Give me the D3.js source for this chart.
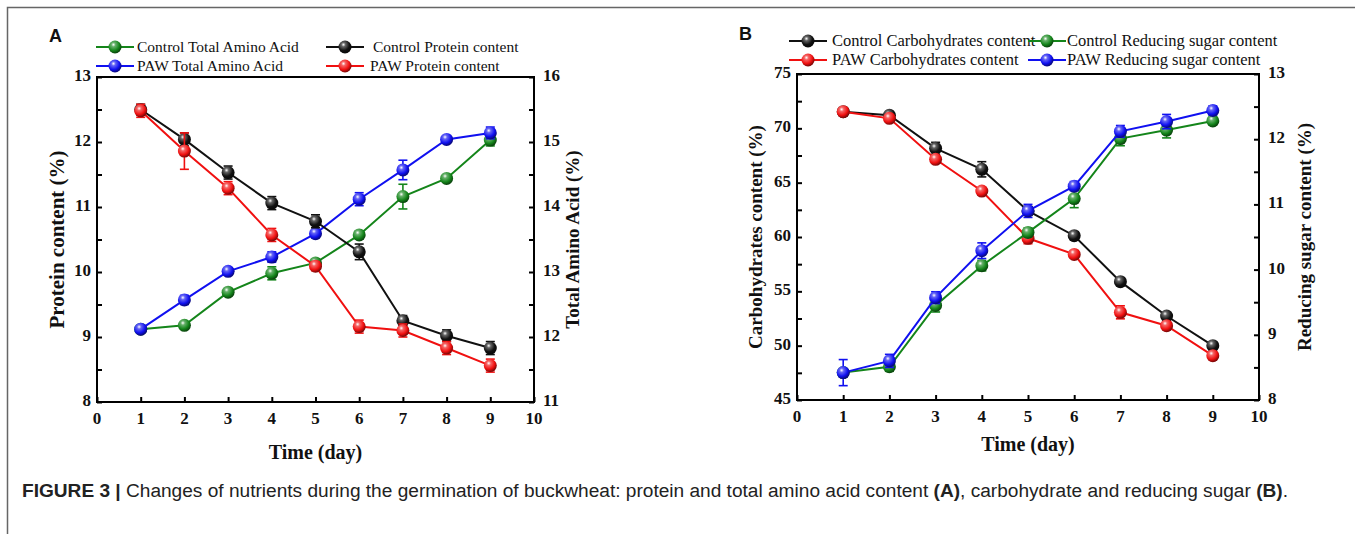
<!DOCTYPE html>
<html>
<head>
<meta charset="utf-8">
<script src="https://cdn.jsdelivr.net/npm/d3@7"></script>
<style>
  body { margin: 0; background: #fff; }
  svg { display: block; }
  .tick-label { font-family: "Liberation Serif", "Times New Roman", serif; font-weight: bold; font-size: 17px; fill: #111; }
  .axis-title { font-family: "Liberation Serif", "Times New Roman", serif; font-weight: bold; fill: #111; }
  .legend-text { font-family: "Liberation Serif", "Times New Roman", serif; fill: #111; }
  .panel-tag { font-family: "Liberation Sans", Arial, sans-serif; font-weight: bold; font-size: 18px; fill: #111; }
  .caption { font-family: "Liberation Sans", Arial, sans-serif; font-size: 18px; fill: #222; }
</style>
</head>
<body>
<svg id="fig" width="1355" height="534"></svg>
<script>
// ---- data ----
const days = [1, 2, 3, 4, 5, 6, 7, 8, 9];
const xTicks = [0, 1, 2, 3, 4, 5, 6, 7, 8, 9, 10];

// panel A
const proteinControl    = [12.50, 12.04, 11.53, 11.06, 10.78, 10.31, 9.25, 9.02, 8.83];
const proteinControlErr = [0.08, 0.10, 0.10, 0.10, 0.10, 0.12, 0.08, 0.09, 0.10];
const proteinPAW        = [12.48, 11.86, 11.29, 10.57, 10.09, 9.16, 9.10, 8.83, 8.56];
const proteinPAWErr     = [0.10, 0.28, 0.10, 0.10, 0.07, 0.10, 0.10, 0.10, 0.10];
const aminoControl      = [12.12, 12.18, 12.69, 12.98, 13.14, 13.57, 14.16, 14.44, 15.03];
const aminoControlErr   = [0.04, 0.05, 0.05, 0.10, 0.06, 0.06, 0.19, 0.05, 0.09];
const aminoPAW          = [12.12, 12.57, 13.01, 13.23, 13.59, 14.12, 14.57, 15.04, 15.14];
const aminoPAWErr       = [0.05, 0.07, 0.05, 0.08, 0.05, 0.10, 0.15, 0.04, 0.09];
const proteinTicks = [8, 9, 10, 11, 12, 13];
const aminoTicks   = [11, 12, 13, 14, 15, 16];

// panel B
const carbControl    = [71.53, 71.20, 68.16, 66.23, 62.40, 60.12, 55.89, 52.73, 50.00];
const carbControlErr = [0.30, 0.35, 0.55, 0.70, 0.40, 0.35, 0.30, 0.30, 0.30];
const carbPAW        = [71.53, 70.92, 67.15, 64.23, 59.88, 58.40, 53.07, 51.84, 49.08];
const carbPAWErr     = [0.30, 0.30, 0.30, 0.30, 0.50, 0.30, 0.60, 0.30, 0.30];
const sugarControl    = [8.42, 8.51, 9.45, 10.06, 10.57, 11.09, 12.01, 12.14, 12.28];
const sugarControlErr = [0.05, 0.07, 0.10, 0.08, 0.07, 0.14, 0.11, 0.12, 0.05];
const sugarPAW        = [8.42, 8.60, 9.57, 10.29, 10.90, 11.28, 12.12, 12.27, 12.44];
const sugarPAWErr     = [0.20, 0.10, 0.09, 0.12, 0.10, 0.07, 0.09, 0.11, 0.07];
const carbTicks  = [45, 50, 55, 60, 65, 70, 75];
const sugarTicks = [8, 9, 10, 11, 12, 13];

const colors = { green: "#14851a", blue: "#1010f0", black: "#111111", red: "#f01010" };

const svg = d3.select("#fig");
const defs = svg.append("defs");

// shaded ball markers
Object.entries(colors).forEach(([k, c]) => {
  const grad = defs.append("radialGradient").attr("id", "ball-" + k)
    .attr("cx", "38%").attr("cy", "32%").attr("r", "65%");
  grad.append("stop").attr("offset", "0%").attr("stop-color", "#ffffff");
  grad.append("stop").attr("offset", "25%").attr("stop-color", d3.interpolateRgb(c, "#fff")(0.35));
  grad.append("stop").attr("offset", "70%").attr("stop-color", c);
  grad.append("stop").attr("offset", "100%").attr("stop-color", d3.interpolateRgb(c, "#000")(0.45));
});

// figure frame
svg.append("path").attr("d", "M7.5,534 V7.5 H1355")
  .attr("fill", "none").attr("stroke", "#666").attr("stroke-width", 1.5);

function drawPanel(p) {
  const g = svg.append("g");
  const x = d3.scaleLinear().domain([0, 10]).range([p.left, p.right]);
  const yL = d3.scaleLinear().domain(p.leftDomain).range([p.bottom, p.top]);
  const yR = d3.scaleLinear().domain(p.rightDomain).range([p.bottom, p.top]);

  // frame
  g.append("rect").attr("x", p.left).attr("y", p.top)
    .attr("width", p.right - p.left).attr("height", p.bottom - p.top)
    .attr("fill", "none").attr("stroke", "#000").attr("stroke-width", 2);

  // inward ticks
  const xAx = d3.axisBottom(x).tickValues(xTicks).tickSize(-5).tickFormat("");
  g.append("g").attr("transform", `translate(0,${p.bottom})`).call(xAx);
  const lTicks = d3.range(p.leftDomain[0], p.leftDomain[1] + 1e-9, p.leftMinor);
  const rTicks = d3.range(p.rightDomain[0], p.rightDomain[1] + 1e-9, p.rightMinor);
  g.append("g").attr("transform", `translate(${p.left},0)`)
    .call(d3.axisLeft(yL).tickValues(lTicks).tickSize(-5).tickFormat(""));
  g.append("g").attr("transform", `translate(${p.right},0)`)
    .call(d3.axisRight(yR).tickValues(rTicks).tickSize(-5).tickFormat(""));
  g.selectAll(".domain").remove();
  g.selectAll(".tick line").attr("stroke", "#000").attr("stroke-width", 2);

  // tick labels
  g.selectAll(".xl").data(xTicks).join("text").attr("class", "tick-label")
    .attr("x", d => x(d)).attr("y", p.bottom + 22).attr("text-anchor", "middle").text(d => d);
  g.selectAll(".ll").data(p.leftTicks).join("text").attr("class", "tick-label")
    .attr("x", p.left - 6).attr("y", d => yL(d) + 4).attr("text-anchor", "end").text(d => d);
  g.selectAll(".rl").data(p.rightTicks).join("text").attr("class", "tick-label")
    .attr("x", p.right + 9).attr("y", d => yR(d) + 4).attr("text-anchor", "start").text(d => d);

  // titles
  const midY = (p.top + p.bottom) / 2;
  g.append("text").attr("class", "axis-title").attr("text-anchor", "middle")
    .style("font-size", p.leftTitleSize + "px")
    .attr("transform", `translate(${p.leftTitleX},${midY}) rotate(-90)`).text(p.leftTitle);
  g.append("text").attr("class", "axis-title").attr("text-anchor", "middle")
    .style("font-size", "19px")
    .attr("transform", `translate(${p.rightTitleX},${midY}) rotate(-90)`).text(p.rightTitle);
  g.append("text").attr("class", "axis-title").attr("text-anchor", "middle")
    .style("font-size", "20px")
    .attr("x", (p.left + p.right) / 2).attr("y", p.xTitleY).text("Time (day)");
  g.append("text").attr("class", "panel-tag").attr("x", p.tagX).attr("y", p.tagY).text(p.tag);

  // series
  p.series.forEach(s => {
    const y = s.axis === "left" ? yL : yR;
    const c = colors[s.color];
    const pts = days.map((d, i) => ({ d, v: s.values[i], e: s.err[i] }));
    const sg = g.append("g");
    sg.append("path").datum(pts)
      .attr("d", d3.line().x(q => x(q.d)).y(q => y(q.v)))
      .attr("fill", "none").attr("stroke", c).attr("stroke-width", 2);
    const eb = sg.selectAll(".eb").data(pts).join("g");
    eb.append("line").attr("x1", q => x(q.d)).attr("x2", q => x(q.d))
      .attr("y1", q => y(q.v - q.e)).attr("y2", q => y(q.v + q.e))
      .attr("stroke", c).attr("stroke-width", 1.6);
    [1, -1].forEach(sgn => {
      eb.append("line").attr("x1", q => x(q.d) - 4.5).attr("x2", q => x(q.d) + 4.5)
        .attr("y1", q => y(q.v + sgn * q.e)).attr("y2", q => y(q.v + sgn * q.e))
        .attr("stroke", c).attr("stroke-width", 1.6);
    });
    sg.selectAll(".pt").data(pts).join("circle")
      .attr("cx", q => x(q.d)).attr("cy", q => y(q.v)).attr("r", 6.5)
      .attr("fill", `url(#ball-${s.color})`);
  });

  // legend
  p.legend.forEach(l => {
    const c = colors[l.color];
    const lg = g.append("g");
    lg.append("line").attr("x1", l.mx - 19).attr("x2", l.mx + 19)
      .attr("y1", l.y).attr("y2", l.y).attr("stroke", c).attr("stroke-width", 2);
    lg.append("circle").attr("cx", l.mx).attr("cy", l.y).attr("r", 6.5)
      .attr("fill", `url(#ball-${l.color})`);
    lg.append("text").attr("class", "legend-text").style("font-size", p.legendSize + "px")
      .attr("x", l.tx).attr("y", l.y + 5).text(l.label);
  });
}

drawPanel({
  left: 97, right: 534, top: 77, bottom: 402,
  leftDomain: [8, 13], rightDomain: [11, 16], leftMinor: 0.5, rightMinor: 0.5,
  leftTicks: proteinTicks, rightTicks: aminoTicks,
  leftTitle: "Protein content (%)", rightTitle: "Total Amino Acid (%)",
  leftTitleX: 64, rightTitleX: 579, xTitleY: 459, leftTitleSize: 21, legendSize: 15.5,
  tag: "A", tagX: 49, tagY: 42,
  series: [
    { values: aminoControl, err: aminoControlErr, axis: "right", color: "green" },
    { values: aminoPAW, err: aminoPAWErr, axis: "right", color: "blue" },
    { values: proteinControl, err: proteinControlErr, axis: "left", color: "black" },
    { values: proteinPAW, err: proteinPAWErr, axis: "left", color: "red" }
  ],
  legend: [
    { label: "Control Total Amino Acid", color: "green", mx: 115, tx: 137, y: 47 },
    { label: "PAW Total Amino Acid", color: "blue", mx: 115, tx: 137, y: 66 },
    { label: "Control Protein content", color: "black", mx: 345, tx: 373, y: 47 },
    { label: "PAW Protein content", color: "red", mx: 345, tx: 370, y: 66 }
  ]
});

drawPanel({
  left: 797, right: 1259, top: 74, bottom: 400,
  leftDomain: [45, 75], rightDomain: [8, 13], leftMinor: 2.5, rightMinor: 0.5,
  leftTicks: carbTicks, rightTicks: sugarTicks,
  leftTitle: "Carbohydrates content (%)", rightTitle: "Reducing sugar content (%)",
  leftTitleX: 762, rightTitleX: 1311, xTitleY: 451, leftTitleSize: 19, legendSize: 16.5,
  tag: "B", tagX: 739, tagY: 40,
  series: [
    { values: carbControl, err: carbControlErr, axis: "left", color: "black" },
    { values: carbPAW, err: carbPAWErr, axis: "left", color: "red" },
    { values: sugarControl, err: sugarControlErr, axis: "right", color: "green" },
    { values: sugarPAW, err: sugarPAWErr, axis: "right", color: "blue" }
  ],
  legend: [
    { label: "Control Carbohydrates content", color: "black", mx: 808, tx: 832, y: 41 },
    { label: "PAW Carbohydrates content", color: "red", mx: 808, tx: 832, y: 60 },
    { label: "Control Reducing sugar content", color: "green", mx: 1047, tx: 1067, y: 41 },
    { label: "PAW Reducing sugar content", color: "blue", mx: 1047, tx: 1067, y: 60 }
  ]
});

// caption
const cap = svg.append("text").attr("class", "caption").attr("x", 22).attr("y", 497)
  .attr("textLength", 1266).attr("lengthAdjust", "spacingAndGlyphs");
cap.append("tspan").attr("font-weight", "bold").text("FIGURE 3 | ");
cap.append("tspan").text("Changes of nutrients during the germination of buckwheat: protein and total amino acid content ");
cap.append("tspan").attr("font-weight", "bold").text("(A)");
cap.append("tspan").text(", carbohydrate and reducing sugar ");
cap.append("tspan").attr("font-weight", "bold").text("(B)");
cap.append("tspan").text(".");
</script>
</body>
</html>
